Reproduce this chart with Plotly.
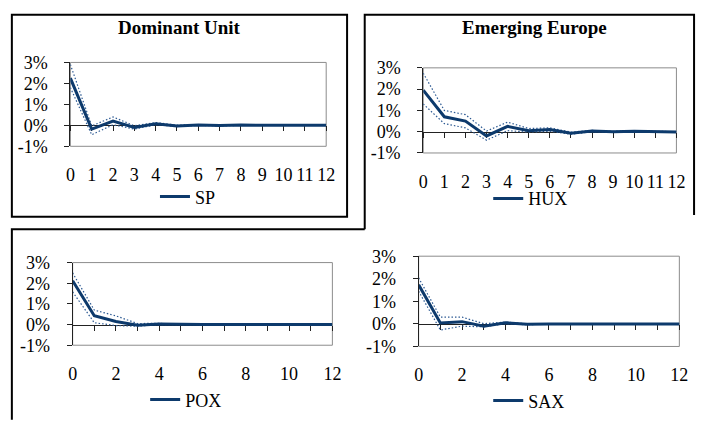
import plotly.graph_objects as go

W, H = 706, 427

# Horizon (periods after the shock)
periods = list(range(13))

# Impulse responses (in %) with upper/lower confidence bands
sp_mid = [2.25, -0.18, 0.20, -0.10, 0.08, -0.03, 0.02, -0.01, 0.01, 0.00, 0.00, 0.00, 0.00]
sp_up = [2.90, -0.03, 0.40, -0.02, 0.13, 0.01, 0.04, 0.01, 0.02, 0.01, 0.00, 0.00, 0.00]
sp_lo = [1.80, -0.45, 0.03, -0.18, 0.03, -0.06, 0.00, -0.03, 0.00, -0.01, 0.00, 0.00, 0.00]

hux_mid = [1.95, 0.70, 0.50, -0.20, 0.25, 0.05, 0.10, -0.07, 0.03, 0.00, 0.02, 0.00, -0.01]
hux_up = [2.75, 1.00, 0.80, 0.03, 0.45, 0.15, 0.18, -0.02, 0.06, 0.02, 0.04, 0.01, 0.00]
hux_lo = [1.30, 0.38, 0.18, -0.40, 0.05, -0.02, 0.02, -0.12, 0.00, -0.02, 0.00, -0.01, -0.02]

pox_mid = [2.12, 0.43, 0.15, -0.03, 0.03, 0.00, 0.00, 0.00, 0.00, 0.00, 0.00, 0.00, 0.00]
pox_up = [2.50, 0.70, 0.42, 0.05, 0.06, 0.01, 0.00, 0.00, 0.00, 0.00, 0.00, 0.00, 0.00]
pox_lo = [1.58, 0.09, -0.05, -0.08, 0.00, -0.01, 0.00, 0.00, 0.00, 0.00, 0.00, 0.00, 0.00]

sax_mid = [1.73, 0.04, 0.10, -0.10, 0.05, -0.02, 0.00, 0.00, 0.00, 0.00, 0.00, 0.00, 0.00]
sax_up = [2.04, 0.30, 0.30, 0.01, 0.08, 0.00, 0.01, 0.00, 0.00, 0.00, 0.00, 0.00, 0.00]
sax_lo = [1.45, -0.27, -0.10, -0.13, 0.01, -0.04, 0.00, 0.00, 0.00, 0.00, 0.00, 0.00, 0.00]

y_tickvals = [-1, 0, 1, 2, 3]
y_ticktext = ["-1%", "0%", "1%", "2%", "3%"]
x_labels_all = periods
x_labels_even = [0, 2, 4, 6, 8, 10, 12]

names = ["SP", "HUX", "POX", "SAX"]

FONT = "Liberation Serif"
MAIN = "#0d3a6c"
BAND = "#2d5a93"


def px_x(v):
    return v / W


def px_y(v):
    return 1 - v / H


# Plot-area rectangles in pixels: (left, right, top, bottom)
areas = [
    (66.7, 327.7, 55, 143),
    (426.7, 685, 60.7, 150),
    (69, 334, 265, 351.7),
    (422, 688, 258.3, 353),
]
label_sets = [x_labels_all, x_labels_all, x_labels_even, x_labels_even]
legend_pos = [(193, 196), (533, 198), (183, 409), (533, 410)]
series = [
    (sp_mid, sp_up, sp_lo),
    (hux_mid, hux_up, hux_lo),
    (pox_mid, pox_up, pox_lo),
    (sax_mid, sax_up, sax_lo),
]

fig = go.Figure()
layout = dict(
    width=W, height=H,
    margin=dict(l=0, r=0, t=0, b=0),
    paper_bgcolor="white", plot_bgcolor="white",
    font=dict(family=FONT, size=18, color="black"),
    showlegend=True,
)
shapes = []
annotations = []

for i in range(4):
    k = i + 1
    kl = i + 5
    xs = "" if k == 1 else str(k)
    ys = "" if k == 1 else str(k)
    l, r, t, b = areas[i]
    xdom = [px_x(l), px_x(r)]
    ydom = [px_y(b), px_y(t)]
    zero_pos = ydom[0] + (0 - (-1)) / 4 * (ydom[1] - ydom[0])
    leg = "legend" if k == 1 else f"legend{k}"

    mid, up, lo = series[i]
    for band in (up, lo):
        fig.add_trace(go.Scatter(
            x=periods, y=band, mode="lines",
            line=dict(color=BAND, width=1.2, dash="1.5px,2px"),
            showlegend=False, hoverinfo="skip",
            xaxis=f"x{xs}", yaxis=f"y{ys}",
        ))
    fig.add_trace(go.Scatter(
        x=periods, y=mid, mode="lines", name=names[i],
        line=dict(color=MAIN, width=3),
        xaxis=f"x{xs}", yaxis=f"y{ys}", legend=leg,
    ))
    # carrier for the category-label axis
    fig.add_trace(go.Scatter(
        x=[], y=[], showlegend=False, hoverinfo="skip",
        xaxis=f"x{kl}", yaxis=f"y{ys}",
    ))

    # category axis crossing at 0%
    layout[f"xaxis{xs}"] = dict(
        domain=xdom, range=[0, 12], anchor="free", position=zero_pos,
        showline=True, linecolor="#222", linewidth=1,
        ticks="outside", ticklen=5, tickcolor="#222", tickwidth=1,
        tickvals=periods, showticklabels=False,
        showgrid=False, zeroline=False, layer="below traces", fixedrange=True,
    )
    # value axis
    layout[f"yaxis{ys}"] = dict(
        domain=ydom, range=[-1, 3], anchor=f"x{xs}",
        showline=True, linecolor="#222", linewidth=1,
        ticks="outside", ticklen=5, tickcolor="#222",
        tickvals=y_tickvals, ticktext=y_ticktext, ticklabelstandoff=13,
        showgrid=False, zeroline=False, fixedrange=True,
    )
    # category labels below the plot area
    layout[f"xaxis{kl}"] = dict(
        overlaying=f"x{xs}", anchor=f"y{ys}", side="bottom", range=[0, 12],
        showline=False, ticks="", tickvals=label_sets[i],
        ticklabelstandoff=16, showgrid=False, zeroline=False, fixedrange=True,
    )
    # plot-area frame
    shapes.append(dict(
        type="rect", xref=f"x{xs} domain", yref=f"y{ys} domain",
        x0=0, x1=1, y0=0, y1=1, line=dict(color="#8c8c8c", width=1), layer="below",
    ))
    lx, ly = legend_pos[i]
    layout[leg] = dict(
        x=px_x(lx - 40), y=px_y(ly), xanchor="left", yanchor="middle",
        bgcolor="rgba(0,0,0,0)", borderwidth=0, orientation="h",
        font=dict(family=FONT, size=18),
    )

# chart titles
for txt, cx in (("Dominant Unit", 178), ("Emerging Europe", 540)):
    annotations.append(dict(
        text=f"<b>{txt}</b>", x=px_x(cx), y=px_y(18), xref="paper", yref="paper",
        xanchor="center", yanchor="middle", showarrow=False,
        font=dict(family=FONT, size=19),
    ))

# chart-object borders
BLK = dict(color="black", width=2)
shapes.append(dict(type="rect", xref="paper", yref="paper",
                   x0=px_x(7), x1=px_x(349), y0=px_y(217), y1=px_y(5), line=BLK))
shapes.append(dict(type="path", xref="paper", yref="paper",
                   path=f"M {px_x(367)} {px_y(230)} L {px_x(367)} {px_y(5)} "
                        f"L {px_x(703)} {px_y(5)} L {px_x(703)} {px_y(215)}",
                   line=BLK))
shapes.append(dict(type="path", xref="paper", yref="paper",
                   path=f"M {px_x(7)} {px_y(430)} L {px_x(7)} {px_y(230)} L {px_x(367)} {px_y(230)}",
                   line=BLK))

layout["shapes"] = shapes
layout["annotations"] = annotations
fig.update_layout(**layout)

fig.write_html("out.html")
